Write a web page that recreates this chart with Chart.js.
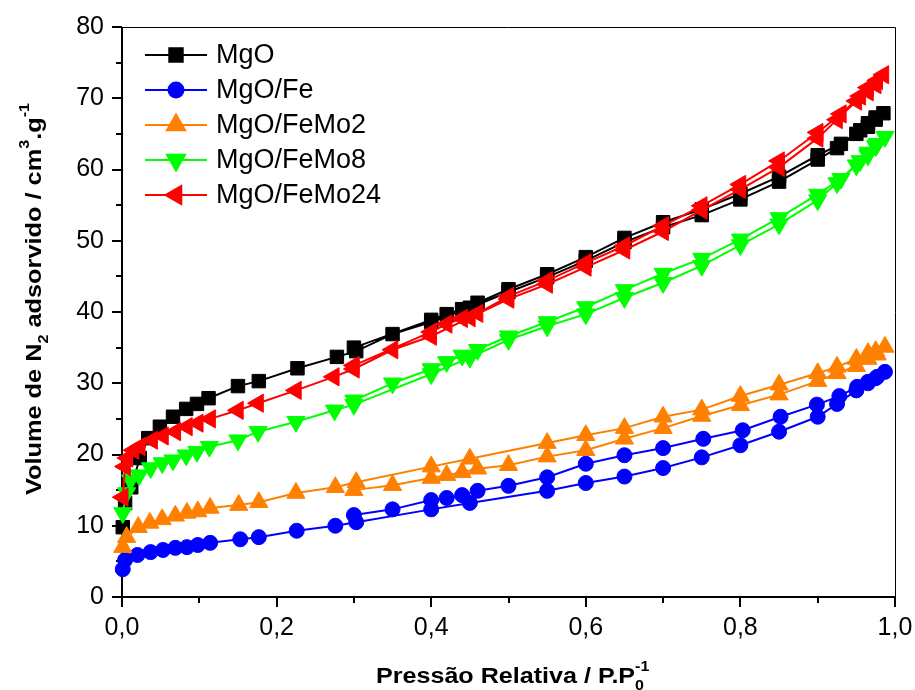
<!DOCTYPE html>
<html>
<head>
<meta charset="utf-8">
<script src="https://cdn.jsdelivr.net/npm/chart.js@4.4.1/dist/chart.umd.min.js"></script>
<style>
  html, body { margin: 0; padding: 0; background: #fff; }
  #wrap { width: 915px; height: 690px; }
</style>
</head>
<body>
<div id="wrap"><canvas id="isotherm" width="915" height="690"></canvas></div>
<script>
// N2 isotherms, each list = adsorption branch then desorption branch
const mgoP = [0.001, 0.004, 0.012, 0.023, 0.034, 0.049, 0.066, 0.083, 0.097, 0.112, 0.150, 0.177, 0.227, 0.278, 0.303, 0.350, 0.400, 0.450, 0.500, 0.550, 0.600, 0.650, 0.700, 0.750, 0.800, 0.850, 0.900, 0.925, 0.950, 0.965, 0.975, 0.985,
              0.975, 0.965, 0.955, 0.930, 0.900, 0.850, 0.800, 0.750, 0.700, 0.650, 0.600, 0.550, 0.500, 0.460, 0.440, 0.420, 0.400, 0.300];
const mgoV = [9.8, 13.2, 15.4, 19.5, 22.3, 23.9, 25.3, 26.4, 27.1, 27.9, 29.6, 30.3, 32.1, 33.7, 34.5, 36.9, 38.6, 40.6, 42.8, 44.9, 47.2, 49.8, 51.9, 53.6, 55.8, 58.3, 61.4, 63.0, 65.0, 66.0, 67.0, 67.9,
              67.3, 66.5, 65.5, 63.6, 62.0, 59.0, 56.6, 54.4, 52.6, 50.4, 47.7, 45.3, 43.2, 41.3, 40.4, 39.7, 38.9, 35.0];

const feP = [0.001, 0.004, 0.020, 0.037, 0.053, 0.069, 0.084, 0.098, 0.114, 0.153, 0.177, 0.226, 0.276, 0.303, 0.400, 0.450, 0.550, 0.600, 0.650, 0.700, 0.750, 0.800, 0.850, 0.900, 0.925, 0.950, 0.965, 0.975, 0.987,
             0.977, 0.965, 0.951, 0.928, 0.899, 0.852, 0.803, 0.752, 0.700, 0.650, 0.600, 0.550, 0.500, 0.460, 0.440, 0.420, 0.400, 0.350, 0.300];
const feV = [3.9, 5.2, 5.9, 6.3, 6.6, 6.9, 7.0, 7.3, 7.6, 8.1, 8.4, 9.3, 10.0, 10.5, 12.3, 13.2, 14.9, 16.0, 16.9, 18.1, 19.6, 21.3, 23.2, 25.3, 27.1, 29.0, 30.0, 30.7, 31.6,
             30.9, 30.2, 29.5, 28.2, 27.0, 25.3, 23.4, 22.2, 20.9, 19.9, 18.7, 16.8, 15.6, 14.9, 14.3, 13.9, 13.6, 12.3, 11.5];

const femo2P = [0.001, 0.006, 0.021, 0.036, 0.052, 0.069, 0.084, 0.098, 0.114, 0.151, 0.177, 0.225, 0.276, 0.303, 0.400, 0.450, 0.550, 0.600, 0.650, 0.700, 0.750, 0.800, 0.850, 0.900, 0.925, 0.950, 0.965, 0.975, 0.987,
                0.977, 0.965, 0.950, 0.925, 0.900, 0.850, 0.800, 0.750, 0.700, 0.650, 0.600, 0.550, 0.500, 0.460, 0.440, 0.420, 0.400, 0.350, 0.300];
const femo2V = [7.0, 8.4, 9.8, 10.4, 10.9, 11.4, 11.8, 12.0, 12.5, 12.9, 13.3, 14.6, 15.4, 16.1, 18.3, 19.4, 21.6, 22.7, 23.7, 25.3, 26.3, 28.2, 29.8, 31.4, 32.3, 33.4, 34.2, 34.5, 35.1,
                34.0, 33.4, 32.4, 31.4, 30.3, 28.4, 26.9, 25.4, 23.7, 22.2, 20.6, 19.7, 18.5, 18.0, 17.5, 17.1, 16.7, 15.7, 15.0];

const femo8P = [0.001, 0.006, 0.011, 0.022, 0.037, 0.052, 0.066, 0.083, 0.097, 0.113, 0.150, 0.176, 0.225, 0.275, 0.300, 0.400, 0.450, 0.500, 0.550, 0.600, 0.650, 0.700, 0.750, 0.800, 0.850, 0.900, 0.925, 0.950, 0.965, 0.975, 0.987,
                0.977, 0.965, 0.955, 0.930, 0.900, 0.850, 0.800, 0.750, 0.700, 0.650, 0.600, 0.550, 0.500, 0.460, 0.440, 0.420, 0.400, 0.350, 0.300];
const femo8V = [11.8, 14.6, 16.4, 17.1, 18.1, 18.8, 19.2, 19.9, 20.4, 21.1, 22.0, 23.2, 24.6, 26.2, 27.0, 31.3, 33.6, 36.1, 38.0, 39.7, 42.0, 44.1, 46.5, 49.4, 52.3, 55.7, 58.1, 60.6, 62.0, 63.3, 64.6,
                63.6, 62.4, 61.2, 58.7, 56.5, 53.2, 50.2, 47.5, 45.4, 43.1, 40.7, 38.6, 36.6, 34.7, 33.9, 33.0, 32.0, 30.0, 27.6];

const femo24P = [0.001, 0.004, 0.007, 0.015, 0.023, 0.039, 0.053, 0.069, 0.084, 0.098, 0.114, 0.150, 0.176, 0.225, 0.274, 0.300, 0.350, 0.400, 0.450, 0.500, 0.550, 0.600, 0.650, 0.700, 0.750, 0.800, 0.850, 0.900, 0.925, 0.950, 0.965, 0.975, 0.985,
                 0.977, 0.965, 0.955, 0.930, 0.900, 0.850, 0.800, 0.750, 0.700, 0.650, 0.600, 0.550, 0.500, 0.460, 0.440, 0.420, 0.400, 0.300];
const femo24V = [14.0, 18.3, 19.5, 20.6, 21.1, 22.0, 22.6, 23.2, 23.9, 24.4, 25.0, 26.2, 27.2, 29.0, 30.9, 32.0, 34.7, 36.6, 39.2, 41.8, 43.9, 46.3, 48.7, 51.3, 54.3, 57.2, 60.3, 64.4, 67.0, 69.6, 70.9, 71.9, 73.3,
                 72.5, 71.5, 70.3, 67.8, 65.2, 61.2, 57.9, 54.9, 52.1, 49.3, 46.9, 44.4, 42.2, 39.8, 39.1, 38.3, 37.2, 32.5];

const samples = ['MgO', 'MgO/Fe', 'MgO/FeMo2', 'MgO/FeMo8', 'MgO/FeMo24'];
const xTicks = [0, 0.2, 0.4, 0.6, 0.8, 1.0];
const yTicks = [0, 10, 20, 30, 40, 50, 60, 70, 80];

const pairs = (p, v) => p.map((x, i) => ({ x: x, y: v[i] }));

const looks = [
  { color: '#000000', style: 'rect', radius: 9.5, rotation: 0 },
  { color: '#0000ff', style: 'circle', radius: 7.5, rotation: 0 },
  { color: '#ff8000', style: 'triangle', radius: 10.5, rotation: 0 },
  { color: '#00ff00', style: 'triangle', radius: 10.5, rotation: 180 },
  { color: '#ff0000', style: 'triangle', radius: 10.5, rotation: 270 }
];
const series = [pairs(mgoP, mgoV), pairs(feP, feV), pairs(femo2P, femo2V), pairs(femo8P, femo8V), pairs(femo24P, femo24V)];

const datasets = samples.map((name, i) => ({
  label: name,
  data: series[i],
  showLine: true,
  borderColor: looks[i].color,
  backgroundColor: looks[i].color,
  borderWidth: 2,
  pointStyle: looks[i].style,
  pointRadius: looks[i].radius,
  pointRotation: looks[i].rotation,
  pointBorderWidth: 1,
  pointBorderColor: looks[i].color,
  pointBackgroundColor: looks[i].color,
  order: 5 - i,
  clip: false
}));

const comma = v => Number(v).toFixed(1).replace('.', ',');

// draw a string made of normal / sub / sup pieces, squeezed to a target width
function richText(ctx, parts, size, targetW) {
  const fontOf = p => 'bold ' + (p.s ? Math.round(size * 0.62) : size) + 'px "Liberation Sans", Arial, sans-serif';
  const widths = parts.map(p => {
    ctx.font = fontOf(p);
    return p.stack ? 0 : ctx.measureText(p.t).width;
  });
  const total = widths.reduce((a, b) => a + b, 0);
  const k = targetW ? targetW / total : 1;
  ctx.save();
  ctx.scale(k, 1);
  let x = 0;
  parts.forEach((p, i) => {
    ctx.font = fontOf(p);
    const dy = p.s === 'sub' ? size * 0.3 : p.s === 'sup' ? -size * 0.55 : 0;
    const px = p.stack ? x - widths[i - 1] : x;
    ctx.fillText(p.t, px, dy);
    x += widths[i];
  });
  ctx.restore();
}

const frame = {
  id: 'frame',
  beforeDatasetsDraw(chart) {
    const { ctx, chartArea: a, scales } = chart;
    ctx.save();
    ctx.strokeStyle = '#000';
    ctx.lineWidth = 1;
    ctx.beginPath();
    ctx.moveTo(a.left, a.top + 0.5);
    ctx.lineTo(a.right + 0.5, a.top + 0.5);
    ctx.lineTo(a.right + 0.5, a.bottom);
    ctx.stroke();
    ctx.lineWidth = 2;
    ctx.beginPath();
    ctx.moveTo(a.left, a.top);
    ctx.lineTo(a.left, a.bottom);
    ctx.lineTo(a.right + 1, a.bottom);
    ctx.stroke();
    ctx.beginPath();
    for (let v = 0; v <= 80; v += 5) {
      const py = Math.round(scales.y.getPixelForValue(v));
      const len = v % 10 === 0 ? 10 : 6;
      ctx.moveTo(a.left - len, py);
      ctx.lineTo(a.left, py);
    }
    for (let i = 0; i <= 10; i++) {
      const px = Math.round(scales.x.getPixelForValue(i / 10));
      const len = i % 2 === 0 ? 10 : 6;
      ctx.moveTo(px, a.bottom);
      ctx.lineTo(px, a.bottom + len);
    }
    ctx.stroke();
    ctx.restore();
  },
  afterDraw(chart) {
    const { ctx } = chart;
    ctx.save();
    ctx.fillStyle = '#000';
    ctx.textBaseline = 'alphabetic';

    // x title
    ctx.save();
    ctx.translate(376, 683);
    richText(ctx, [{ t: 'Pressão Relativa / P.P' }, { t: '0', s: 'sub' }, { t: '-1', s: 'sup', stack: true }], 22, 268);
    ctx.restore();

    // y title
    ctx.save();
    ctx.translate(41, 495);
    ctx.rotate(-Math.PI / 2);
    richText(ctx, [{ t: 'Volume de N' }, { t: '2', s: 'sub' }, { t: ' adsorvido / cm' }, { t: '3', s: 'sup' }, { t: '.g' }, { t: '-1', s: 'sup' }], 22, 392);
    ctx.restore();

    // legend
    const rowY = [55, 90, 125, 160, 195];
    chart.data.datasets.forEach((ds, i) => {
      const y = rowY[i];
      ctx.strokeStyle = ds.borderColor;
      ctx.lineWidth = 2;
      ctx.beginPath();
      ctx.moveTo(145, y);
      ctx.lineTo(207, y);
      ctx.stroke();
      ctx.fillStyle = ds.borderColor;
      ctx.strokeStyle = ds.borderColor;
      Chart.helpers.drawPoint(ctx, {
        pointStyle: ds.pointStyle, rotation: ds.pointRotation, radius: ds.pointRadius, borderWidth: 1
      }, 176, y);
      ctx.fillStyle = '#000';
      ctx.font = '27px "Liberation Sans", Arial, sans-serif';
      ctx.textBaseline = 'middle';
      ctx.fillText(ds.label, 216, y + 1);
    });
    ctx.restore();
  }
};

new Chart(document.getElementById('isotherm').getContext('2d'), {
  type: 'scatter',
  data: { datasets: datasets },
  options: {
    responsive: false,
    animation: false,
    layout: { padding: { top: 27, right: 20, left: 0, bottom: 0 } },
    plugins: { legend: { display: false }, tooltip: { enabled: false } },
    scales: {
      x: {
        type: 'linear', min: 0, max: 1,
        afterFit: s => { s.height = 93; s.paddingLeft = 0; s.paddingRight = 0; },
        afterBuildTicks: s => { s.ticks = xTicks.map(v => ({ value: v })); },
        grid: { display: false, drawTicks: false },
        border: { display: false },
        ticks: { color: '#000', padding: 16, maxRotation: 0, font: { family: '"Liberation Sans", Arial', size: 25 }, callback: comma }
      },
      y: {
        type: 'linear', min: 0, max: 80,
        afterFit: s => { s.width = 122; s.paddingTop = 0; s.paddingBottom = 0; },
        afterBuildTicks: s => { s.ticks = yTicks.map(v => ({ value: v })); },
        grid: { display: false, drawTicks: false },
        border: { display: false },
        ticks: { color: '#000', padding: 18, font: { family: '"Liberation Sans", Arial', size: 25 } }
      }
    }
  },
  plugins: [frame]
});
</script>
</body>
</html>
